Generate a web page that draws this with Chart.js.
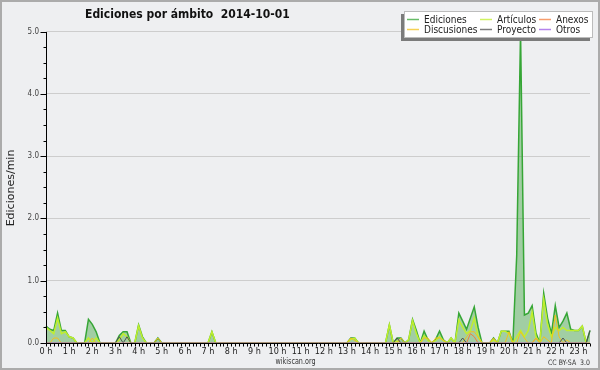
<!DOCTYPE html>
<html>
<head>
<meta charset="utf-8">
<title>Ediciones por ámbito 2014-10-01</title>
<script src="https://cdn.jsdelivr.net/npm/chart.js@4.4.1/dist/chart.umd.min.js"></script>
<style>
  html, body { margin: 0; padding: 0; background: #eeeff1; }
  #chart { display: block; }
</style>
</head>
<body>
<canvas id="chart" width="600" height="370"></canvas>
<script>
// edits per minute, one value every 10 minutes (0:00 .. 23:30), two hours per row
const ediciones = [
  0.27, 0.22, 0.2, 0.48, 0.2, 0.2,  0.1, 0.08, 0, 0, 0, 0.38,
  0.3, 0.18, 0, 0, 0, 0,  0, 0.12, 0.18, 0.18, 0, 0,
  0.29, 0.1, 0, 0, 0, 0.08,  0, 0, 0, 0, 0, 0,
  0, 0, 0, 0, 0, 0,  0, 0.18, 0, 0, 0, 0,
  0, 0, 0, 0, 0, 0,  0, 0, 0, 0, 0, 0,
  0, 0, 0, 0, 0, 0,  0, 0, 0, 0, 0, 0,
  0, 0, 0, 0, 0, 0,  0, 0.08, 0.08, 0, 0, 0,
  0, 0, 0, 0, 0, 0.29,  0, 0.08, 0.08, 0, 0.05, 0.38,
  0.2, 0, 0.19, 0.05, 0, 0.06,  0.19, 0.05, 0, 0.08, 0, 0.48,
  0.35, 0.22, 0.4, 0.58, 0.25, 0,  0, 0, 0.08, 0, 0.19, 0.19,
  0.19, 0, 1.4, 5.0, 0.45, 0.48,  0.6, 0.16, 0, 0.8, 0.4, 0.15,
  0.6, 0.25, 0.35, 0.48, 0.22, 0.2,  0.2, 0.27, 0, 0.2
];
const articulos = [
  0.25, 0.2, 0.15, 0.4, 0.15, 0.18,  0.1, 0.08, 0, 0, 0, 0.08,
  0, 0.08, 0, 0, 0, 0,  0, 0.05, 0.15, 0.1, 0, 0,
  0.28, 0.08, 0, 0, 0, 0,  0, 0, 0, 0, 0, 0,
  0, 0, 0, 0, 0, 0,  0, 0.18, 0, 0, 0, 0,
  0, 0, 0, 0, 0, 0,  0, 0, 0, 0, 0, 0,
  0, 0, 0, 0, 0, 0,  0, 0, 0, 0, 0, 0,
  0, 0, 0, 0, 0, 0,  0, 0.06, 0.08, 0, 0, 0,
  0, 0, 0, 0, 0, 0.29,  0, 0.03, 0, 0, 0.05, 0.36,
  0.15, 0, 0.12, 0.04, 0, 0.04,  0.1, 0.04, 0, 0.08, 0, 0.37,
  0.25, 0.15, 0.2, 0.4, 0.1, 0,  0, 0, 0.05, 0, 0.19, 0.19,
  0.15, 0, 0.1, 0.2, 0.1, 0.2,  0.5, 0.1, 0, 0.7, 0.3, 0.1,
  0.25, 0.2, 0.25, 0.2, 0.2, 0.2,  0.2, 0.27, 0, 0
];
const anexos = [
  0, 0, 0, 0, 0, 0,  0, 0, 0, 0, 0, 0,
  0, 0, 0, 0, 0, 0,  0, 0, 0, 0, 0, 0,
  0, 0, 0, 0, 0, 0,  0, 0, 0, 0, 0, 0,
  0, 0, 0, 0, 0, 0,  0, 0, 0, 0, 0, 0,
  0, 0, 0, 0, 0, 0,  0, 0, 0, 0, 0, 0,
  0, 0, 0, 0, 0, 0,  0, 0, 0, 0, 0, 0,
  0, 0, 0, 0, 0, 0,  0, 0, 0, 0, 0, 0,
  0, 0, 0, 0, 0, 0,  0, 0, 0, 0, 0, 0,
  0, 0, 0, 0, 0, 0,  0, 0, 0, 0, 0, 0,
  0, 0, 0.15, 0.1, 0, 0,  0, 0, 0, 0, 0, 0,
  0, 0, 0, 0, 0, 0,  0, 0.08, 0, 0, 0, 0,
  0, 0, 0, 0, 0, 0,  0, 0, 0, 0
];
const discusiones = [
  0, 0, 0.08, 0.08, 0, 0,  0, 0, 0, 0, 0, 0,
  0.08, 0, 0, 0, 0, 0,  0, 0, 0, 0, 0, 0,
  0, 0, 0, 0, 0, 0.08,  0, 0, 0, 0, 0, 0,
  0, 0, 0, 0, 0, 0,  0, 0, 0, 0, 0, 0,
  0, 0, 0, 0, 0, 0,  0, 0, 0, 0, 0, 0,
  0, 0, 0, 0, 0, 0,  0, 0, 0, 0, 0, 0,
  0, 0, 0, 0, 0, 0,  0, 0.08, 0.04, 0, 0, 0,
  0, 0, 0, 0, 0, 0,  0, 0, 0.08, 0, 0, 0,
  0, 0, 0.08, 0.08, 0, 0.08,  0.08, 0.04, 0, 0, 0, 0,
  0, 0.1, 0.18, 0.18, 0.1, 0,  0, 0, 0.08, 0, 0, 0,
  0.18, 0, 0, 0.18, 0.08, 0,  0, 0.08, 0, 0.1, 0.05, 0,
  0.45, 0.1, 0, 0.05, 0, 0,  0, 0, 0, 0
];
const proyecto = [
  0, 0, 0, 0, 0, 0,  0, 0, 0, 0, 0, 0,
  0, 0, 0, 0, 0, 0,  0, 0.1, 0, 0.1, 0, 0,
  0, 0, 0, 0, 0, 0,  0, 0, 0, 0, 0, 0,
  0, 0, 0, 0, 0, 0,  0, 0, 0, 0, 0, 0,
  0, 0, 0, 0, 0, 0,  0, 0, 0, 0, 0, 0,
  0, 0, 0, 0, 0, 0,  0, 0, 0, 0, 0, 0,
  0, 0, 0, 0, 0, 0,  0, 0, 0, 0, 0, 0,
  0, 0, 0, 0, 0, 0,  0, 0.08, 0, 0, 0, 0,
  0, 0, 0, 0, 0, 0,  0, 0, 0, 0, 0, 0,
  0.08, 0, 0, 0, 0, 0,  0, 0, 0, 0, 0, 0,
  0, 0, 0, 0, 0, 0,  0, 0, 0, 0, 0, 0,
  0, 0, 0.08, 0, 0, 0,  0, 0, 0, 0.2
];
const otros = [
  0, 0, 0, 0, 0, 0,  0, 0, 0, 0, 0, 0,
  0, 0, 0, 0, 0, 0,  0, 0, 0, 0, 0, 0,
  0, 0, 0, 0, 0, 0,  0, 0, 0, 0, 0, 0,
  0, 0, 0, 0, 0, 0,  0, 0, 0, 0, 0, 0,
  0, 0, 0, 0, 0, 0,  0, 0, 0, 0, 0, 0,
  0, 0, 0, 0, 0, 0,  0, 0, 0, 0, 0, 0,
  0, 0, 0, 0, 0, 0,  0, 0, 0, 0, 0, 0,
  0, 0, 0, 0, 0, 0,  0, 0, 0, 0, 0, 0,
  0, 0, 0, 0, 0, 0,  0, 0, 0, 0, 0, 0,
  0, 0, 0, 0, 0, 0,  0, 0, 0, 0, 0, 0,
  0, 0, 0, 0, 0, 0,  0, 0, 0, 0, 0, 0,
  0, 0, 0, 0, 0, 0,  0, 0, 0, 0
];

const hourLabels = ['0 h', '1 h', '2 h', '3 h', '4 h', '5 h', '6 h', '7 h', '8 h', '9 h', '10 h', '11 h',
  '12 h', '13 h', '14 h', '15 h', '16 h', '17 h', '18 h', '19 h', '20 h', '21 h', '22 h', '23 h'];

// categories: the 10 minute slots
const times = [];
for (let i = 0; i < ediciones.length; i++) {
  times.push(Math.floor(i / 6) + ':' + (i % 6) + '0');
}

const FONT = '"DejaVu Sans Condensed", "DejaVu Sans", sans-serif';

const decor = {
  id: 'decor',
  beforeDraw(chart) {
    const c = chart.ctx;
    c.save();
    c.fillStyle = '#eeeff1';
    c.fillRect(0, 0, chart.width, chart.height);
    c.strokeStyle = '#ababab';
    c.lineWidth = 2;
    c.strokeRect(1, 1, chart.width - 2, chart.height - 2);
    c.restore();
  },
  afterDraw(chart) {
    const c = chart.ctx, a = chart.chartArea;
    const sx = chart.scales.x, sy = chart.scales.y;
    const ax = Math.round(a.left) + 0.5, ay = Math.round(a.bottom) + 0.5;
    c.save();

    // axes and tick marks
    c.strokeStyle = '#000';
    c.lineWidth = 1;
    c.beginPath();
    c.moveTo(ax, Math.round(a.top));
    c.lineTo(ax, ay);
    c.lineTo(Math.round(a.right), ay);
    for (let v = 0; v <= 5; v += 0.25) {
      const py = Math.round(sy.getPixelForValue(v)) + 0.5;
      const len = v % 1 === 0 ? 6 : 3;
      c.moveTo(ax - len, py);
      c.lineTo(ax, py);
    }
    times.forEach((t, i) => {
      const px = Math.round(sx.getPixelForValue(i)) + 0.5;
      c.moveTo(px, ay);
      c.lineTo(px, ay + 3);
    });
    c.stroke();

    // title
    c.fillStyle = '#111';
    c.font = 'bold 12px ' + FONT;
    c.textAlign = 'left';
    c.textBaseline = 'alphabetic';
    c.fillText('Ediciones por ámbito  2014-10-01', 85, 17.5);

    // y axis title
    c.save();
    c.translate(13.5, 188);
    c.rotate(-Math.PI / 2);
    c.textAlign = 'center';
    c.font = '11px "DejaVu Sans", sans-serif';
    c.fillStyle = '#222';
    c.fillText('Ediciones/min', 0, 0);
    c.restore();

    // footer
    c.fillStyle = '#333';
    c.textAlign = 'center';
    c.font = '9px ' + FONT;
    c.fillText('wikiscan.org', 295.5, 364, 40);
    c.textAlign = 'right';
    c.font = '7.5px ' + FONT;
    c.fillText('CC BY-SA  3.0', 590, 365, 42);

    // legend box
    c.fillStyle = '#7b7b7b';
    c.fillRect(401, 14, 189, 27);
    c.fillStyle = '#ffffff';
    c.fillRect(404, 11, 189, 27);
    c.strokeStyle = '#bcbcbc';
    c.strokeRect(404.5, 11.5, 188, 26);
    const cols = [407, 480, 539];
    c.textAlign = 'left';
    c.font = '10px ' + FONT;
    chart.data.datasets.forEach((d, k) => {
      const lx = cols[k % 3], ly = 19.5 + Math.floor(k / 3) * 10;
      c.strokeStyle = d.borderColor;
      c.globalAlpha = 0.75;
      c.lineWidth = 1.5;
      c.beginPath();
      c.moveTo(lx, ly);
      c.lineTo(lx + 12, ly);
      c.stroke();
      c.globalAlpha = 1;
      c.fillStyle = '#222';
      c.fillText(d.label, lx + 17, ly + 3.5);
    });
    c.restore();
  }
};

new Chart(document.getElementById('chart'), {
  type: 'line',
  data: {
    labels: times,
    datasets: [
      { label: 'Ediciones', data: ediciones, borderColor: '#36a636', backgroundColor: 'rgba(54,160,54,0.42)', fill: 'origin', borderWidth: 1.5, order: 5 },
      { label: 'Artículos', data: articulos, borderColor: '#c0ef2c', borderWidth: 1.5, order: 4 },
      { label: 'Anexos', data: anexos, borderColor: '#f47c3c', order: 3 },
      { label: 'Discusiones', data: discusiones, borderColor: '#f2c21c', order: 2 },
      { label: 'Proyecto', data: proyecto, borderColor: '#505050', order: 1 },
      { label: 'Otros', data: otros, borderColor: '#9b59e6', order: 0 }
    ]
  },
  options: {
    responsive: false,
    animation: false,
    devicePixelRatio: 1,
    layout: { padding: { top: 31.5, right: 10, bottom: 0, left: 0 } },
    datasets: {
      line: {
        pointRadius: 0,
        tension: 0,
        borderWidth: 1,
        fill: false,
        clip: { left: 2, top: 2, right: 2, bottom: -0.5 }
      }
    },
    plugins: {
      legend: { display: false },
      title: { display: false },
      tooltip: { enabled: false }
    },
    scales: {
      x: {
        type: 'category',
        offset: false,
        grid: { display: false },
        border: { display: false },
        ticks: {
          autoSkip: false,
          maxRotation: 0,
          padding: -5,
          color: '#222',
          font: { family: FONT, size: 9 },
          callback: (v) => hourLabels[v / 6]
        },
        afterBuildTicks: (s) => { s.ticks = s.ticks.filter(t => t.value % 6 === 0); },
        afterFit: (s) => { s.height = 27; }
      },
      y: {
        min: 0,
        max: 5,
        grid: { color: '#cdcdcd', drawTicks: false },
        border: { display: false },
        ticks: {
          stepSize: 1,
          padding: 7,
          color: '#444',
          font: { family: FONT, size: 8 },
          callback: (v) => v.toFixed(1)
        },
        afterFit: (s) => { s.width = 46; }
      }
    }
  },
  plugins: [decor]
});
</script>
</body>
</html>
